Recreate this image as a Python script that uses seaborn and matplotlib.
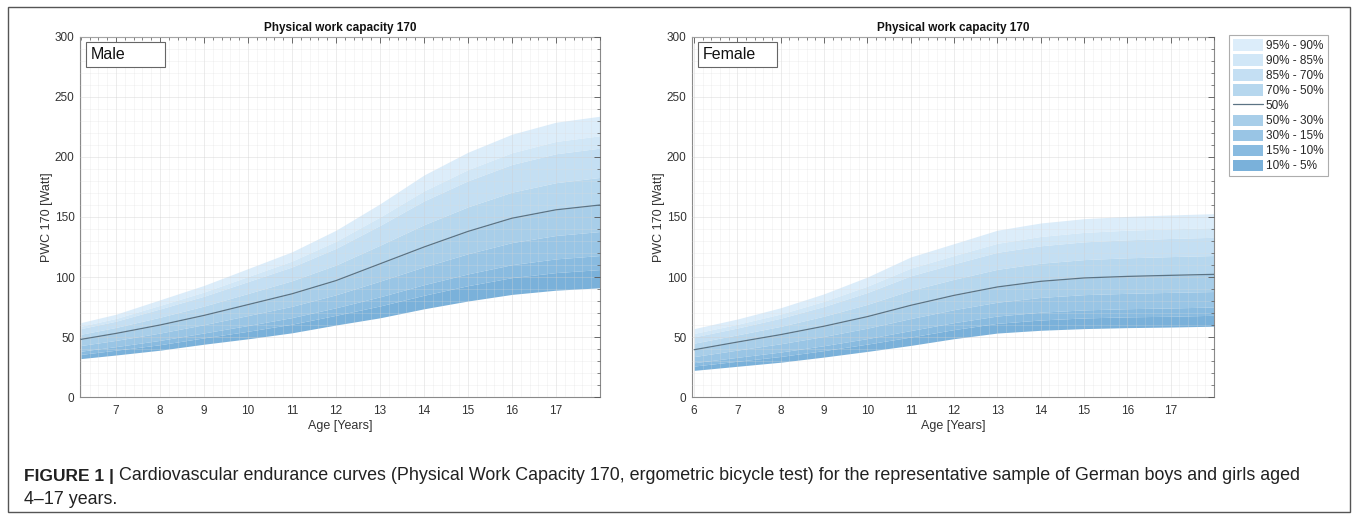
import numpy as np
import pandas as pd
import matplotlib
matplotlib.use("Agg")
import matplotlib.pyplot as plt
from matplotlib.patches import Patch, Rectangle
from matplotlib.lines import Line2D
from matplotlib.ticker import MultipleLocator
import seaborn as sns

# --- data (PWC 170 in Watt) ---
male_age = [6.2, 7, 8, 9, 10, 11, 12, 13, 14, 15, 16, 17, 18]
male_p95 = [62, 69, 81, 93, 107, 121, 139, 161, 185, 204, 219, 229, 234]
male_p90 = [59, 65.5, 76.4, 87.5, 100.4, 113.3, 129.8, 150, 171.8, 189.5, 203.6, 213, 217.7]
male_p85 = [57, 63.2, 73.4, 84, 96.2, 108.4, 123.9, 143, 163.4, 180.2, 193.8, 202.7, 207.4]
male_p70 = [52.3, 58, 66.5, 75.8, 86.3, 96.9, 110, 126.5, 143.6, 158.5, 170.7, 178.6, 183]
male_p50 = [48, 53, 60, 68, 77, 86, 97, 111, 125, 138, 149, 156, 160]
male_p30 = [42.9, 47.2, 53.3, 60.3, 67.9, 75.6, 85.2, 96.6, 108.5, 119.4, 128.7, 134.6, 137.9]
male_p15 = [38.2, 42, 47.2, 53.4, 59.6, 66.2, 74.4, 83.5, 93.6, 102.6, 110.3, 115.1, 117.9]
male_p10 = [35.5, 39, 43.6, 49.3, 54.8, 60.7, 68.1, 75.9, 84.8, 92.8, 99.5, 103.7, 106.2]
male_p5 = [32, 35, 39, 44, 48.5, 53.5, 60, 66, 73.5, 80, 85.5, 89, 91]

female_age = [6, 7, 8, 9, 10, 11, 12, 13, 14, 15, 16, 17, 18]
female_p95 = [57, 65, 74.4, 86, 100, 116.7, 127.8, 139, 145, 148.6, 150.5, 151.7, 152.8]
female_p90 = [53, 60.6, 69.2, 79.8, 92.4, 107.4, 117.9, 128.1, 133.8, 137.2, 139, 140.1, 141.2]
female_p85 = [50.1, 57.5, 65.7, 75.5, 87.1, 101, 111, 120.6, 126, 129.3, 131, 132.1, 133.1]
female_p70 = [44.9, 51.8, 58.9, 67.4, 77.2, 88.9, 98.1, 106.4, 111.5, 114.5, 116, 117, 117.9]
female_p50 = [39.4, 45.8, 52, 59, 67, 76.4, 84.7, 91.7, 96.4, 99.2, 100.5, 101.4, 102.2]
female_p30 = [33.7, 39.1, 44.4, 50.5, 57.4, 65.4, 72.8, 79, 83, 85.3, 86.4, 87.2, 87.9]
female_p15 = [28.6, 33.1, 37.5, 42.8, 48.7, 55.4, 62, 67.5, 70.7, 72.6, 73.6, 74.2, 75]
female_p10 = [25.8, 29.8, 33.8, 38.7, 44.1, 50, 56.2, 61.4, 64.2, 65.9, 66.8, 67.3, 68.1]
female_p5 = [22.2, 25.6, 29, 33.3, 38, 43, 48.6, 53.3, 55.6, 57, 57.8, 58.3, 59]

band_labels = ["95% - 90%", "90% - 85%", "85% - 70%", "70% - 50%",
               "50% - 30%", "30% - 15%", "15% - 10%", "10% - 5%"]
band_colors = ["#dcedfa", "#d1e7f7", "#c4dff3", "#b6d7ee",
               "#a8cee9", "#99c5e5", "#89bbe0", "#7ab1da"]
median_color = "#5b7384"

sns.set_theme(style="white")
plt.rcParams['font.family'] = ['Liberation Sans', 'DejaVu Sans']

fig = plt.figure(figsize=(13.58, 5.19), dpi=100)

# outer frame
fig.patches.append(Rectangle((8 / 1358, 7 / 519), 1342 / 1358, 505 / 519,
                             transform=fig.transFigure, fill=False,
                             edgecolor="#555555", linewidth=1.0))


def draw_panel(ax, age, curves, label, xlim, xticks, width_px):
    df = pd.DataFrame({"age": age, "p50": curves[4]})
    for i in range(8):
        ax.fill_between(age, curves[i], curves[i + 1], color=band_colors[i],
                        linewidth=0, zorder=1)
    sns.lineplot(data=df, x="age", y="p50", ax=ax, color=median_color,
                 linewidth=0.9, zorder=3)

    ax.set_xlim(*xlim)
    ax.set_ylim(0, 300)
    ax.set_xticks(xticks)
    ax.set_yticks(range(0, 301, 50))
    ax.xaxis.set_minor_locator(MultipleLocator(0.2))
    ax.yaxis.set_minor_locator(MultipleLocator(10))
    ax.set_axisbelow(False)
    ax.grid(which="major", color="#cfcfcf", linewidth=0.6, alpha=0.45)
    ax.grid(which="minor", color="#dcdcdc", linewidth=0.5, alpha=0.35)
    ax.tick_params(which="both", direction="in", top=True, right=True,
                   colors="#555555", labelcolor="#333333", labelsize=8.5)
    ax.tick_params(which="major", length=4, width=0.6, pad=6)
    ax.tick_params(axis="y", which="major", pad=4)
    ax.tick_params(which="minor", length=2, width=0.5)
    for s in ax.spines.values():
        s.set_color("#8a8a8a")
        s.set_linewidth(0.8)
    ax.set_title("Physical work capacity 170", fontsize=8.5, fontweight="bold",
                 color="#111111", pad=4)
    ax.set_xlabel("Age [Years]", fontsize=9, color="#333333", labelpad=2)
    ax.set_ylabel("PWC 170 [Watt]", fontsize=9, color="#333333", labelpad=1)
    # label box in the top-left corner
    bx, by, bw, bh = 6 / width_px, 1 - 30 / 360, 79 / width_px, 25 / 360
    ax.add_patch(Rectangle((bx, by), bw, bh, transform=ax.transAxes,
                           facecolor="white", edgecolor="#666666",
                           linewidth=0.8, zorder=5))
    ax.text(bx + 5 / width_px, by + bh / 2, label, transform=ax.transAxes,
            fontsize=11.5, va="center", ha="left", color="#111111", zorder=6)


ax_m = fig.add_axes([80 / 1358, 1 - 397 / 519, 520 / 1358, 360 / 519])
draw_panel(ax_m, male_age,
           [male_p95, male_p90, male_p85, male_p70, male_p50,
            male_p30, male_p15, male_p10, male_p5],
           "Male", (6.18, 18), range(7, 18), 520)

ax_f = fig.add_axes([692 / 1358, 1 - 397 / 519, 522 / 1358, 360 / 519])
draw_panel(ax_f, female_age,
           [female_p95, female_p90, female_p85, female_p70, female_p50,
            female_p30, female_p15, female_p10, female_p5],
           "Female", (5.95, 18), range(6, 18), 522)

handles = [Patch(facecolor=c, edgecolor="none") for c in band_colors[:4]]
handles.append(Line2D([0], [0], color=median_color, linewidth=0.9))
handles += [Patch(facecolor=c, edgecolor="none") for c in band_colors[4:]]
labels = band_labels[:4] + ["50%"] + band_labels[4:]
leg = ax_f.legend(handles, labels, loc="upper left", bbox_to_anchor=(1.028, 1.005),
                  frameon=True, fancybox=False, fontsize=8.5, handlelength=2.6,
                  handleheight=1.1, handletextpad=0.2, labelspacing=0.2,
                  borderpad=0.35, borderaxespad=0)
leg.get_frame().set_edgecolor("#999999")
leg.get_frame().set_linewidth(0.8)

# caption: bold lead-in, then body text placed right after it
lead = fig.text(24 / 1358, 1 - 476 / 519, "FIGURE 1 |", fontsize=12.5,
                fontweight="bold", va="center", ha="left", color="#222222")
renderer = fig.canvas.get_renderer()
lead_end = lead.get_window_extent(renderer).x1
fig.text((lead_end + 5) / 1358, 1 - 476 / 519,
         "Cardiovascular endurance curves (Physical Work Capacity 170, ergometric bicycle test) "
         "for the representative sample of German boys and girls aged",
         fontsize=12.9, va="center", ha="left", color="#222222")
fig.text(24 / 1358, 1 - 500 / 519, "4\u201317 years.", fontsize=12.9,
         va="center", ha="left", color="#222222")

fig.savefig("out.png", dpi=100)
